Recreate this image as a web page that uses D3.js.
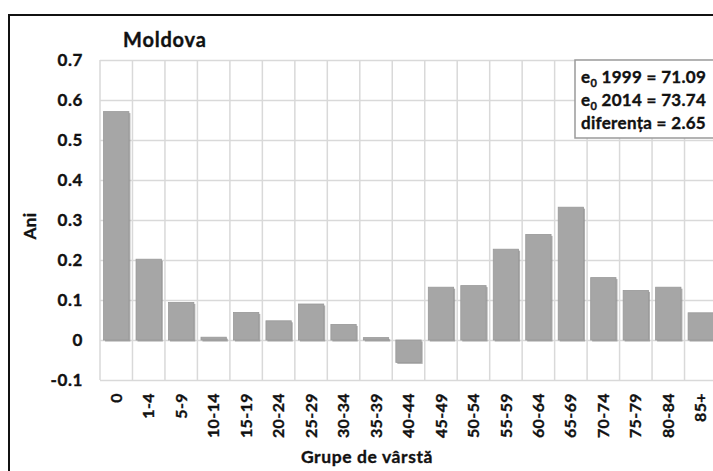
<!DOCTYPE html>
<html><head><meta charset="utf-8">
<script src="https://cdn.jsdelivr.net/npm/d3@7"></script>
<style>
html,body{margin:0;padding:0;background:#fff;}
svg{display:block;font-family:Lato, "Open Sans", sans-serif;font-weight:bold;}
svg text{stroke:#111;stroke-width:0.35px;fill:#111;}
</style></head>
<body><svg id="c" width="713" height="471"></svg>
<script>
const categories = ["0","1-4","5-9","10-14","15-19","20-24","25-29","30-34","35-39","40-44","45-49","50-54","55-59","60-64","65-69","70-74","75-79","80-84","85+"];
const values = [0.571,0.202,0.094,0.007,0.069,0.048,0.090,0.039,0.006,-0.056,0.132,0.136,0.227,0.264,0.332,0.156,0.124,0.132,0.068];
const yTicks = [-0.1,0,0.1,0.2,0.3,0.4,0.5,0.6,0.7];
const yTickLabels = ["-0.1","0","0.1","0.2","0.3","0.4","0.5","0.6","0.7"];
const title = "Moldova";
const yTitle = "Ani";
const xTitle = "Grupe de vârstă";
const noteLines = [
  {sub:true, pre:"e", s:"0", rest:" 1999 = 71.09"},
  {sub:true, pre:"e", s:"0", rest:" 2014 = 73.74"},
  {sub:false, pre:"diferența = 2.65"}
];

(function(){
const svg = d3.select("#c");
const pL = 100, pR = 717, pT = 60, pB = 380;
const x = d3.scaleBand().domain(categories).range([pL, pR]).paddingInner(0.22).paddingOuter(0.11);
const y = d3.scaleLinear().domain([-0.1, 0.7]).range([pB, pT]);

// outer frame
svg.append("rect").attr("x",9).attr("y",15).attr("width",720).attr("height",480)
  .attr("fill","none").attr("stroke","#111").attr("stroke-width",2);

// gridlines horizontal
svg.append("g").selectAll("line").data(yTicks).join("line")
  .attr("x1",pL).attr("x2",pR).attr("y1",d=>Math.round(y(d))+0.5).attr("y2",d=>Math.round(y(d))+0.5)
  .attr("stroke","#d9d9d9").attr("stroke-width",1.5);
// gridlines vertical at band boundaries
const step = x.step();
const bounds = d3.range(categories.length+1).map(i => pL + i*step);
svg.append("g").selectAll("line").data(bounds).join("line")
  .attr("x1",d=>d).attr("x2",d=>d).attr("y1",pT).attr("y2",pB)
  .attr("stroke","#d9d9d9").attr("stroke-width",1.5);

// bars shadow
svg.append("g").selectAll("rect").data(values).join("rect")
  .attr("x",(d,i)=>x(categories[i])+1.5)
  .attr("y",d=>Math.min(y(d),y(0))+1.5)
  .attr("width",x.bandwidth())
  .attr("height",d=>Math.max(1.5,Math.abs(y(d)-y(0))))
  .attr("fill","#8c8c8c").attr("opacity",0.7);
// bars
svg.append("g").selectAll("rect").data(values).join("rect")
  .attr("x",(d,i)=>x(categories[i]))
  .attr("y",d=>Math.min(y(d),y(0)))
  .attr("width",x.bandwidth())
  .attr("height",d=>Math.max(1,Math.abs(y(d)-y(0))))
  .attr("fill","#a6a6a6").attr("stroke","#999").attr("stroke-width",0.8);

// y axis labels
const yAxis = d3.axisLeft(y).tickValues(yTicks).tickSize(0).tickPadding(0)
  .tickFormat((d,i) => yTickLabels[i]);
const ya = svg.append("g").attr("transform",`translate(83,0)`).call(yAxis);
ya.select(".domain").remove();
ya.selectAll("text").attr("font-size",17).attr("letter-spacing",0.6).attr("font-family","Lato, sans-serif").attr("font-weight","bold").attr("fill","#111");

// x axis labels
const xAxis = d3.axisBottom(x).tickSize(0).tickPadding(0);
const xa = svg.append("g").attr("transform",`translate(0,393)`).call(xAxis);
xa.select(".domain").remove();
xa.selectAll("text").attr("font-size",16).attr("letter-spacing",0.4).attr("font-family","Lato, sans-serif").attr("font-weight","bold").attr("fill","#111")
  .attr("transform","rotate(-90)").attr("text-anchor","end").attr("dy","0.35em").attr("x",0).attr("y",0);

// title
svg.append("text").attr("x",123).attr("y",47).attr("font-size",20).attr("letter-spacing",0.8).text(title);
// y title
svg.append("text").attr("transform","translate(36,226) rotate(-90)").attr("text-anchor","middle")
  .attr("font-size",17).attr("letter-spacing",0.5).text(yTitle);
// x title
svg.append("text").attr("x",367).attr("y",463).attr("text-anchor","middle").attr("font-size",17.5).attr("letter-spacing",0.6).text(xTitle);

// note box
svg.append("rect").attr("x",575).attr("y",60).attr("width",150).attr("height",78)
  .attr("fill","#fff").attr("stroke","#9a9a9a").attr("stroke-width",1.5);
const nt = svg.append("g").attr("font-size",17).attr("letter-spacing",0.3);
noteLines.forEach((l,i)=>{
  const t = nt.append("text").attr("x",581).attr("y",83+i*23);
  t.append("tspan").text(l.pre);
  if(l.sub){
    t.append("tspan").attr("font-size",11).attr("dy",4).text(l.s);
    t.append("tspan").attr("dy",-4).text(l.rest);
  }
});
})();
</script></body></html>
